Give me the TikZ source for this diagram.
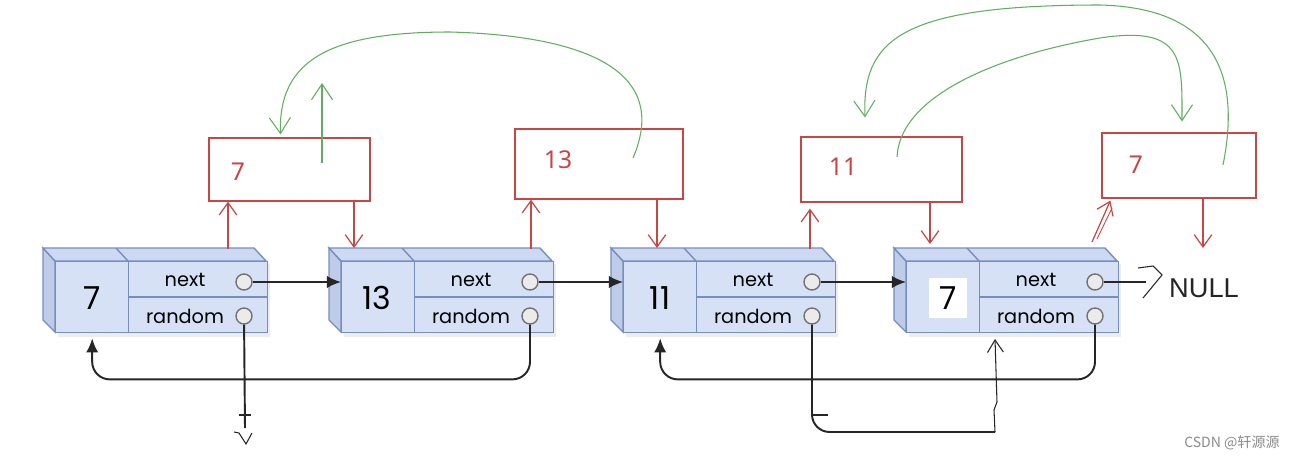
\documentclass[tikz,border=0pt]{standalone}
\usepackage{fontspec}
\setmainfont{Poppins}
\newfontfamily\arialf{Liberation Sans}
\newfontfamily\notof{Noto Sans}
\newfontfamily\cjkf{Noto Sans CJK SC}
\usetikzlibrary{positioning,arrows.meta,calc}
\definecolor{facec}{RGB}{214,225,246}
\definecolor{topc}{RGB}{205,217,242}
\definecolor{sidec}{RGB}{190,204,234}
\definecolor{edgec}{RGB}{118,142,190}
\definecolor{redc}{RGB}{200,70,70}
\definecolor{greenc}{RGB}{95,175,95}
\tikzset{
  face/.style={draw=edgec,fill=facec,line width=0.8pt},
  valcell/.style={face,anchor=north west,minimum width=1.46cm,minimum height=1.42cm,inner sep=0pt},
  fieldcell/.style={face,anchor=north west,minimum width=2.78cm,minimum height=0.71cm,inner sep=0pt},
  ptr/.style={circle,draw=black!55,fill=black!8,line width=0.8pt,minimum size=0.32cm,inner sep=0pt},
  fieldtxt/.style={font=\fontsize{11}{12}\selectfont,inner sep=0pt},
  valtxt/.style={font=\fontsize{18}{20}\selectfont,inner sep=0pt,minimum width=0.76cm,minimum height=0.8cm},
  copybox/.style={draw=redc,line width=0.7pt,inner sep=0pt},
  copytxt/.style={text=redc,font=\notof\fontsize{14}{16}\selectfont,inner sep=0pt},
  ptrline/.style={line width=1.1pt,black!85},
  ptrarrow/.style={ptrline,-{Latex[length=8pt,width=7pt]}},
  redarr/.style={draw=redc,line width=0.7pt,-{Straight Barb[length=7pt,width=10pt]}},
  greenarr/.style={draw=greenc,line width=0.6pt,-{Straight Barb[length=9pt,width=12pt]}},
  hand/.style={line width=0.6pt,black!85},
}
\begin{document}
\begin{tikzpicture}[x=0.02cm,y=-0.02cm]
  \fill[white] (0,0) rectangle (1292,460);
  \useasboundingbox (0,0) rectangle (1292,460);
  \foreach \X/\v/\i/\dx/\bg in {55/7/1/37/none,341/13/2/36/none,623/11/3/37/none,906/7/4/42/white}{
    \fill[black,opacity=0.07] (\X+3,264) rectangle (\X+215,337);
    \filldraw[fill=sidec,draw=edgec,line width=0.8pt] (\X,261) -- (\X-12,248) -- (\X-12,320) -- (\X,332) -- cycle;
    \filldraw[fill=topc,draw=edgec,line width=0.8pt] (\X,261) -- (\X-12,248) -- (\X+199,248) -- (\X+211,261) -- cycle;
    \draw[edgec,line width=0.8pt] (\X+73,261) -- (\X+61,248);
    \node[valcell] (v\i) at (\X,261) {};
    \node[fieldcell] (n\i) at (\X+73,261) {};
    \node[fieldcell] (r\i) at (\X+73,296.5) {};
    \node[valtxt,fill=\bg] (vt\i) at (\X+\dx,298) {\v};
    \node[fieldtxt] (nt\i) at (\X+130,280) {next};
    \node[fieldtxt] (rt\i) at (\X+130,316) {random};
    \node[ptr] (np\i) at (\X+189,282) {};
    \node[ptr] (rp\i) at (\X+189,316) {};
  }
  \foreach \i/\j in {1/2,2/3,3/4} \draw[ptrarrow] (np\i) -- (np\i -| v\j.west);
  \draw[ptrarrow,rounded corners=10pt] (rp2) |- ($(v1.south)+(0,46)$) -- ([yshift=-0.1cm]v1.south);
  \draw[ptrarrow,rounded corners=10pt] (rp4) |- ($(v3.south)+(0,46)$) -- ([yshift=-0.1cm]v3.south);
  \coordinate (hb) at (995,432);
  \coordinate (ht) at (995,339);
  \draw[ptrline,rounded corners=10pt] (rp3) |- (hb);
  \draw[hand,-{Straight Barb[length=7pt,width=9pt]}] (hb) -- (994,410) -- (997,402) -- (ht);
  \draw[ptrline,line width=0.8pt] (812,415) -- (828,415);
  \coordinate (nil) at (245,428);
  \draw[ptrline] (rp1) -- (nil);
  \draw[ptrline,line width=0.8pt] (239,415) -- (251,415);
  \draw[hand] (234,432) -- (239,433) -- (246,444) -- (252,433);
  \node[font=\arialf\fontsize{15.5}{17}\selectfont,text=black!85,inner sep=0pt] (null) at (1204,288) {NULL};
  \coordinate (nx) at (1146,282);
  \draw[ptrline] (np4) -- (nx);
  \draw[hand] (1138,268) -- (1153,266) -- (1162,275) -- (1143,298);

  \node[copybox,minimum width=3.22cm,minimum height=1.26cm] (c1) at (289.5,169.5) {};
  \node[copybox,minimum width=3.36cm,minimum height=1.40cm] (c2) at (599,164) {};
  \node[copybox,minimum width=3.22cm,minimum height=1.30cm] (c3) at (881.5,169.5) {};
  \node[copybox,minimum width=3.08cm,minimum height=1.30cm] (c4) at (1179,165.5) {};
  \node[copytxt] (ct1) at (238,172) {7};
  \node[copytxt] (ct2) at (558,160) {13};
  \node[copytxt] (ct3) at (843,167) {11};
  \node[copytxt] (ct4) at (1136,165) {7};
  \coordinate (u1) at (228,249); \coordinate (d2) at (354,248);
  \coordinate (u2) at (531,249); \coordinate (d3) at (657,248);
  \coordinate (u3) at (810,249); \coordinate (d4) at (930,244);
  \coordinate (u4) at (1092,242); \coordinate (d5) at (1203,248);
  \draw[redarr] (u1) -- (u1 |- c1.south);
  \draw[redarr] (c1.south -| d2) -- (d2);
  \draw[redarr] (u2) -- (u2 |- c2.south);
  \draw[redarr] (c2.south -| d3) -- (d3);
  \draw[redarr] (u3) -- ([yshift=-0.12cm]u3 |- c3.south);
  \draw[redarr] (c3.south -| d4) -- (d4);
  \draw[redarr] (u4) -- ([xshift=0.18cm,yshift=-0.04cm]c4.south west);
  \draw[redc,line width=0.5pt] (1097,239) -- (1112,208);
  \draw[redarr] (c4.south -| d5) -- (d5);

  \coordinate (g1s) at (322,163); \coordinate (g1e) at (322,83);
  \draw[greenarr] (g1s) -- (g1e);
  \coordinate (g2s) at (633,158);
  \draw[greenarr] (g2s) .. controls (675,60) and (560,35) .. (450,32) .. controls (330,32) and (278,60) .. ([xshift=-0.18cm,yshift=0.06cm]c1.north);
  \coordinate (g3s) at (897,157);
  \draw[greenarr] (g3s) .. controls (900,95) and (1000,55) .. (1100,38) .. controls (1185,25) and (1182,60) .. ([xshift=0.06cm,yshift=0.22cm]c4.north);
  \coordinate (g4s) at (1223,165);
  \draw[greenarr] (g4s) .. controls (1240,80) and (1220,8) .. (1100,5) .. controls (900,5) and (862,40) .. ([xshift=-0.33cm,yshift=0.38cm]c3.north);
  \node[text=black!45,font=\cjkf\fontsize{8}{9}\selectfont,anchor=east,inner sep=0pt] (wm) at (1280,443) {CSDN @轩源源};
\end{tikzpicture}
\end{document}
